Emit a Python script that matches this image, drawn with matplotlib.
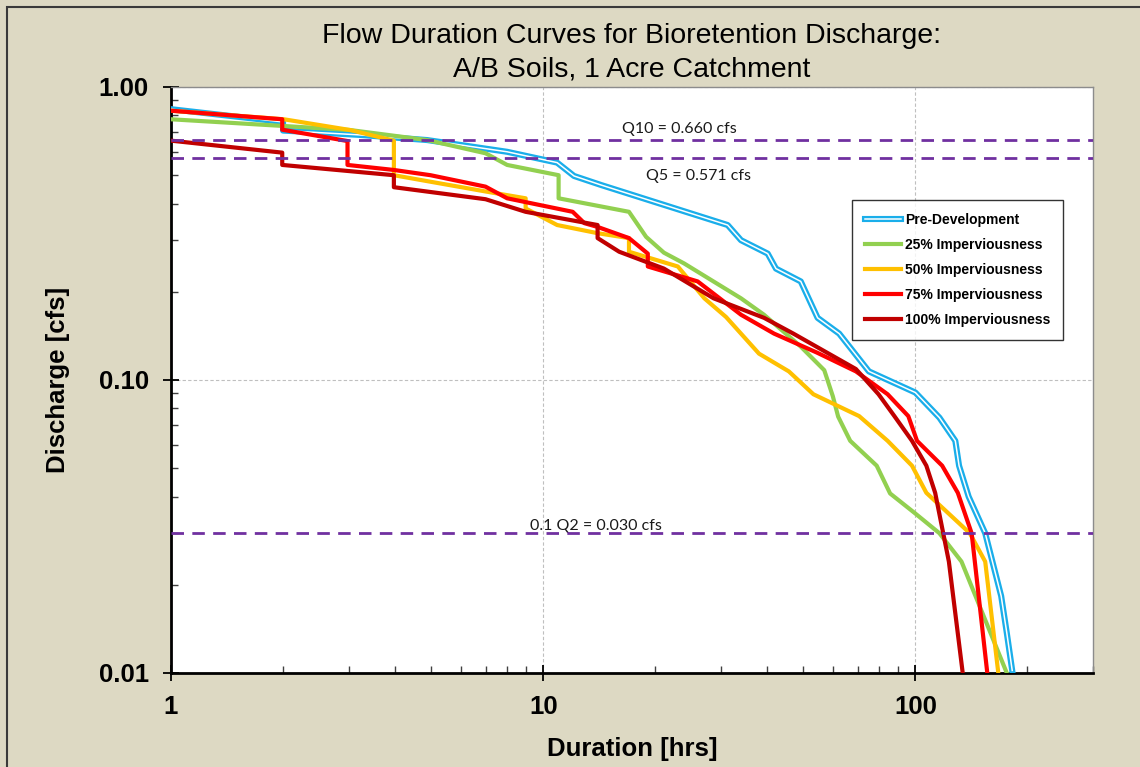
import matplotlib
matplotlib.use("Agg")
import matplotlib.pyplot as plt
import matplotlib.patheffects as pe
from matplotlib.ticker import LogLocator, FixedLocator, FixedFormatter, NullFormatter
from matplotlib.patches import Rectangle

plt.rcParams['font.family'] = ['Liberation Sans', 'DejaVu Sans']

# durations [hrs] and discharge [cfs]
pre_x = [1, 2, 2, 3.23, 4.88, 8.0, 10.9, 12.1, 14.3, 31.3, 34, 40.1, 42.2, 49.2, 54.6, 62.4,
         75, 100, 116, 128, 131, 139, 154, 170, 176, 182]
pre_y = [0.84, 0.76, 0.71, 0.686, 0.659, 0.601, 0.552, 0.497, 0.463, 0.338, 0.30, 0.27, 0.240,
         0.217, 0.163, 0.144, 0.107, 0.0906, 0.0744, 0.062, 0.051, 0.040, 0.030, 0.0183, 0.0137, 0.0102]

i25_x = [1, 2.01, 3.03, 4.88, 7.0, 8.0, 11.0, 11.0, 17.0, 18.9, 21.1, 23.9, 34.0, 39.2, 49.2,
         56.9, 60, 62, 66.8, 78.7, 85.5, 100, 116, 133, 176]
i25_y = [0.776, 0.736, 0.713, 0.659, 0.594, 0.542, 0.50, 0.417, 0.375, 0.308, 0.272, 0.25, 0.19,
         0.167, 0.130, 0.108, 0.088, 0.075, 0.062, 0.051, 0.041, 0.035, 0.030, 0.024, 0.010]

i50_x = [1, 2.01, 3.03, 3.97, 3.97, 4.98, 7.0, 8.97, 8.97, 10.9, 14, 17.0, 17.0, 23, 27.1, 31,
         38, 45.7, 53.2, 70.6, 84.2, 97.9, 107, 140, 154, 167]
i50_y = [0.83, 0.776, 0.713, 0.656, 0.50, 0.475, 0.44, 0.417, 0.385, 0.338, 0.317, 0.305, 0.274,
         0.244, 0.19, 0.164, 0.123, 0.107, 0.0894, 0.0753, 0.062, 0.051, 0.0412, 0.030, 0.024, 0.010]

i75_x = [1, 1.99, 1.99, 2.98, 2.98, 3.97, 4.98, 7.0, 8.0, 12.0, 12.9, 14, 17.0, 19.1, 19.1, 26,
         34, 41.7, 54.4, 69.2, 84.2, 95.7, 101, 118, 130, 141.6, 156]
i75_y = [0.83, 0.776, 0.715, 0.654, 0.542, 0.521, 0.50, 0.457, 0.417, 0.375, 0.343, 0.333, 0.305,
         0.27, 0.244, 0.217, 0.167, 0.144, 0.124, 0.107, 0.0894, 0.0753, 0.062, 0.051, 0.0412, 0.030, 0.010]

i100_x = [1, 1.99, 1.99, 3.97, 3.97, 7.0, 8.97, 14, 14, 16.0, 21.1, 28.7, 39.2, 47, 69.2, 79.6,
          87.8, 97.9, 107, 113, 123, 134]
i100_y = [0.656, 0.597, 0.542, 0.50, 0.455, 0.414, 0.375, 0.338, 0.305, 0.274, 0.24, 0.19, 0.163,
          0.144, 0.109, 0.0894, 0.0753, 0.062, 0.051, 0.0412, 0.024, 0.010]

# reference flows
q_vals = [0.660, 0.571, 0.030]
q_labels = ["Q10 = 0.660 cfs", "Q5 = 0.571 cfs", "0.1 Q2 = 0.030 cfs"]

fig = plt.figure(figsize=(11.4, 7.67), dpi=100)
fig.patch.set_facecolor('#DDD9C3')
fig.patches.append(Rectangle((7/1140, -0.1), 1.2, 1 - 7/767 + 0.1, transform=fig.transFigure,
                             fill=False, edgecolor='#3a3a3a', lw=1.5))

ax = fig.add_axes([171/1140, 1 - 673/767, (1093 - 171)/1140, (673 - 87)/767])
ax.set_facecolor('white')
ax.set_xscale('log')
ax.set_yscale('log')
ax.set_xlim(1, 300)
ax.set_ylim(0.01, 1.0)

ax.grid(True, which='major', color='#BFBFBF', linestyle=(0, (3, 2)), lw=0.8, zorder=0)

blue = '#1AAEEA'
ax.plot(pre_x, pre_y, color='white', lw=1.1, label='Pre-Development', zorder=3,
        path_effects=[pe.Stroke(linewidth=4.4, foreground=blue), pe.Normal()])
ax.plot(i25_x, i25_y, color='#92D050', lw=3, label='25% Imperviousness', zorder=3)
ax.plot(i50_x, i50_y, color='#FFC000', lw=3, label='50% Imperviousness', zorder=3)
ax.plot(i75_x, i75_y, color='#FF0000', lw=3, label='75% Imperviousness', zorder=3)
ax.plot(i100_x, i100_y, color='#C00000', lw=3, label='100% Imperviousness', zorder=3)

for q in q_vals:
    ax.axhline(q, color='#7030A0', lw=2, linestyle=(0, (4.5, 3)), zorder=4)

ax.annotate(q_labels[0], (16.3, q_vals[0]), xytext=(0, 3), textcoords='offset points',
            family='Lato', fontsize=11.5, va='bottom', ha='left', color='#1a1a1a')
ax.annotate(q_labels[1], (18.9, q_vals[1]), xytext=(0, -8), textcoords='offset points',
            family='Lato', fontsize=11.5, va='top', ha='left', color='#1a1a1a')
ax.annotate(q_labels[2], (9.2, q_vals[2]), xytext=(0, 2), textcoords='offset points',
            family='Lato', fontsize=11.5, va='baseline', ha='left', color='#1a1a1a')

# axes styling
for s in ['left', 'bottom']:
    ax.spines[s].set_color('black')
    ax.spines[s].set_linewidth(2)
for s in ['top', 'right']:
    ax.spines[s].set_color('#8C8C8C')
    ax.spines[s].set_linewidth(1)

ax.xaxis.set_major_locator(FixedLocator([1, 10, 100]))
ax.xaxis.set_major_formatter(FixedFormatter(['1', '10', '100']))
ax.xaxis.set_minor_locator(LogLocator(base=10, subs=range(2, 10)))
ax.xaxis.set_minor_formatter(NullFormatter())
ax.yaxis.set_major_locator(FixedLocator([0.01, 0.1, 1.0]))
ax.yaxis.set_major_formatter(FixedFormatter(['0.01', '0.10', '1.00']))
ax.yaxis.set_minor_locator(LogLocator(base=10, subs=range(2, 10)))
ax.yaxis.set_minor_formatter(NullFormatter())
ax.tick_params(which='major', direction='inout', length=12, width=1.3, labelsize=18.5, top=False, right=False)
ax.tick_params(which='minor', direction='in', length=5, width=1, color='#404040', top=False, right=False)
ax.tick_params(axis='x', which='major', pad=10)
ax.tick_params(axis='y', which='major', pad=10)
for lab in ax.get_xticklabels() + ax.get_yticklabels():
    lab.set_fontweight('bold')

ax.set_xlabel('Duration [hrs]', fontsize=18.5, fontweight='bold')
ax.set_ylabel('Discharge [cfs]', fontsize=18.5, fontweight='bold')
ax.xaxis.set_label_coords(0.5, -0.11)
ax.yaxis.set_label_coords(-0.11, 0.5)

fig.text(632/1140, 1 - 53/767, 'Flow Duration Curves for Bioretention Discharge:\nA/B Soils, 1 Acre Catchment',
         ha='center', va='center', fontsize=20.5, linespacing=1.38)

leg = ax.legend(loc='upper right', bbox_to_anchor=(0.9675, 0.807), borderaxespad=0,
                prop={'family': 'Liberation Sans', 'weight': 'bold', 'size': 10},
                frameon=True, fancybox=False, edgecolor='black', handlelength=2.6,
                handletextpad=0.3, labelspacing=0.8, borderpad=0.9)
leg.get_frame().set_linewidth(1)
leg.set_zorder(5)

fig.savefig('out.png', dpi=100, facecolor=fig.get_facecolor())
